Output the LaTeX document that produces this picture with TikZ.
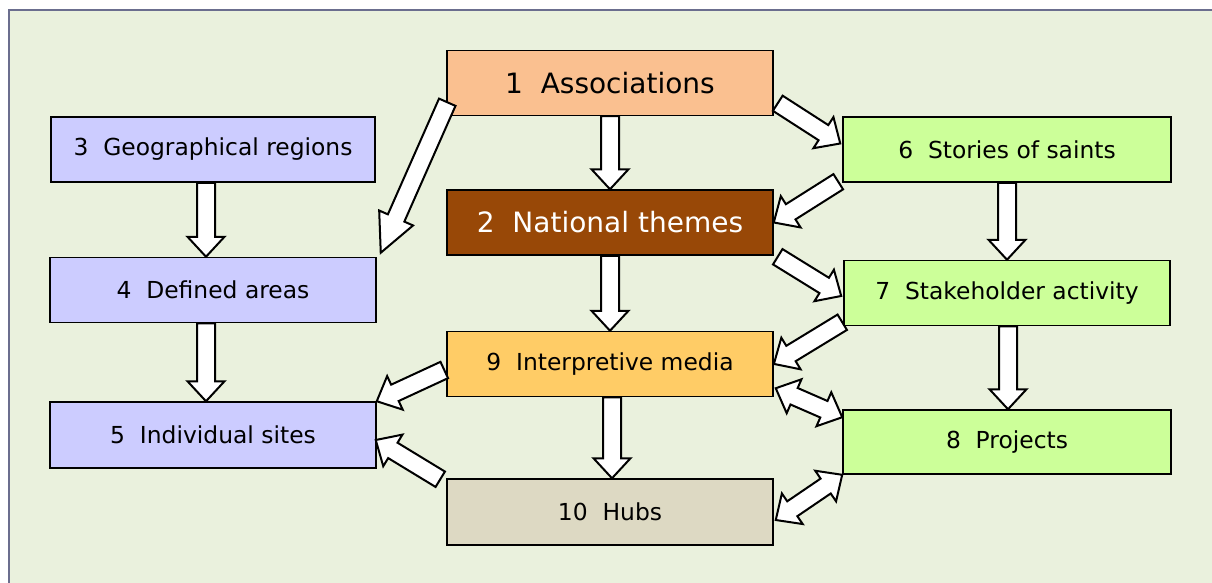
\documentclass[tikz,border=0pt]{standalone}
\usepackage{fontspec}
\setmainfont{DejaVu Sans}
\usepackage{xcolor}
\usepackage{tikz}
\usetikzlibrary{positioning,calc}

\definecolor{panelbg}{HTML}{EAF1DD}
\definecolor{panelline}{HTML}{6B6E8E}
\definecolor{peach}{HTML}{FAC090}
\definecolor{rust}{HTML}{984807}
\definecolor{lilac}{HTML}{CCCCFF}
\definecolor{lime}{HTML}{CCFF99}
\definecolor{gold}{HTML}{FFCC66}
\definecolor{stone}{HTML}{DDD9C3}

% block arrow from #2 to #3, head length #1
\newcommand{\fatarrow}[3][20pt]{%
  \draw[fat] let \p1=(#2), \p2=(#3),
    \n1={atan2(\y2-\y1,\x2-\x1)}, \n2={veclen(\x2-\x1,\y2-\y1)} in
    [shift={(\p1)}, rotate=\n1]
    (0pt,9pt) -- ({\n2*1pt-#1},9pt) -- ({\n2*1pt-#1},18.5pt) -- ({\n2*1pt},0pt)
    -- ({\n2*1pt-#1},-18.5pt) -- ({\n2*1pt-#1},-9pt) -- (0pt,-9pt) -- cycle;}
% block arrow with two heads
\newcommand{\fatboth}[2]{%
  \draw[fat] let \p1=(#1), \p2=(#2),
    \n1={atan2(\y2-\y1,\x2-\x1)}, \n2={veclen(\x2-\x1,\y2-\y1)} in
    [shift={(\p1)}, rotate=\n1]
    (0pt,0pt) -- (20pt,18.5pt) -- (20pt,9pt) -- ({\n2*1pt-20pt},9pt) -- ({\n2*1pt-20pt},18.5pt)
    -- ({\n2*1pt},0pt) -- ({\n2*1pt-20pt},-18.5pt) -- ({\n2*1pt-20pt},-9pt)
    -- (20pt,-9pt) -- (20pt,-18.5pt) -- cycle;}

\begin{document}
\begin{tikzpicture}[
    x=1pt, y=-1pt,
    box/.style={draw, line width=1.5pt, minimum width=326pt, minimum height=65pt, inner sep=0pt,
      align=center, font=\fontsize{23.4}{28}\selectfont},
    bigbox/.style={box, font=\fontsize{28}{33}\selectfont},
    fat/.style={draw, fill=white, line width=2pt, line join=miter}
]
\useasboundingbox (0,0) rectangle (1212,583);
\fill[white] (0,0) rectangle (1212,583);
\begin{scope}
  \clip (0,0) rectangle (1212,583);
  \draw[panelline, fill=panelbg, line width=1.5pt] (9,10) rectangle (1230,600);
\end{scope}

% middle column
\node[bigbox, fill=peach] (assoc) at (610,83) {1~~Associations};
\node[bigbox, fill=rust, text=white, below=73pt of assoc] (themes) {2~~National themes};
\node[box, fill=gold, below=75pt of themes] (media) {9~~Interpretive media};
\node[box, fill=stone, minimum height=66pt, below=81pt of media] (hubs) {10~~Hubs};

% left column
\node[box, fill=lilac, minimum width=324pt] (regions) at (213,149.5) {3~~Geographical regions};
\node[box, fill=lilac, below=74pt of regions] (areas) {4~~Defined areas};
\node[box, fill=lilac, minimum height=66pt, below=78pt of areas] (sites) {5~~Individual sites};

% right column
\node[box, fill=lime, minimum width=328pt] (saints) at (1007,149.5) {6~~Stories of saints};
\node[box, fill=lime, below=77pt of saints] (stake) {7~~Stakeholder activity};
\node[box, fill=lime, minimum width=328pt, minimum height=64pt, below=83pt of stake] (projects) {8~~Projects};

% arrows
\fatarrow{assoc.south}{themes.north}
\fatarrow{themes.south}{media.north}
\fatarrow{$(media.south)+(2,0)$}{$(hubs.north)+(2,0)$}
\fatarrow{$(regions.south)+(-7,0)$}{$(areas.north)+(-7,0)$}
\fatarrow{$(areas.south)+(-7,0)$}{$(sites.north)+(-7,0)$}
\fatarrow{saints.south}{stake.north}
\fatarrow{$(stake.south)+(1,0)$}{$(projects.north)+(1,0)$}
\fatarrow{$(assoc.south east)+(4,-13)$}{$(saints.west)+(-2,-6)$}
\fatarrow{$(saints.south west)+(-4,-1)$}{themes.east}
\fatarrow{$(themes.south east)+(4,1)$}{$(stake.west)+(-2,3)$}
\fatarrow{$(stake.south west)+(-1,-4)$}{media.east}
\fatarrow[38pt]{$(assoc.south west)+(1,-14)$}{$(areas.north east)+(4,-4)$}
\fatarrow{$(media.west)+(-2,6)$}{sites.north east}
\fatarrow{$(hubs.north west)+(-6,1)$}{$(sites.east)+(-1,5)$}
\fatboth{$(media.south east)+(2,-9)$}{$(projects.north west)+(0,8)$}
\fatboth{$(hubs.east)+(2,8)$}{projects.south west}
\end{tikzpicture}
\end{document}
